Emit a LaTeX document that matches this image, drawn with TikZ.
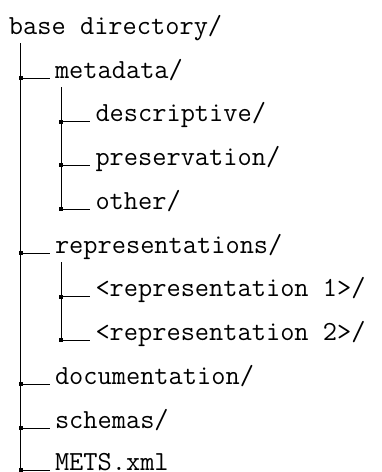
\documentclass[tikz,border=0pt]{standalone}
\usepackage{fontspec}
\usepackage{tikz}

\newcommand\dirfont{\fontsize{27.6}{30}\selectfont\ttfamily}

\begin{document}
\begin{tikzpicture}[x=1pt,y=-1pt,line width=1pt,
                    entry/.style={anchor=base west,inner sep=0pt,font=\dirfont},
                    junction/.style={fill,rectangle,minimum size=4pt,inner sep=0pt}]
  \useasboundingbox (0,0) rectangle (382,472);
  % directory entries
  \node[entry] (base) at (8.5,34) {base directory/};
  \node[entry] (meta) at (54.5,78) {metadata/};
  \node[entry] (desc) at (95,121.5) {descriptive/};
  \node[entry] (pres) at (95,165) {preservation/};
  \node[entry] (other) at (95,209) {other/};
  \node[entry] (reps) at (54.5,253) {representations/};
  \node[entry] (rep1) at (95,296.5) {<representation 1>/};
  \node[entry] (rep2) at (95,340) {<representation 2>/};
  \node[entry] (docs) at (54.5,384) {documentation/};
  \node[entry] (schemas) at (54.5,428) {schemas/};
  \node[entry] (mets) at (54.5,470) {METS.xml};
  % tops of the vertical lines
  \coordinate (top0) at (20.5,43);
  \coordinate (top1) at (61,87);
  \coordinate (top2) at (61,262);
  % junctions on the vertical lines
  \foreach \n in {meta,reps,docs,schemas,mets}
    \node[junction] (j\n) at (\n.base west -| top0) {};
  \foreach \n in {desc,pres,other,rep1,rep2}
    \node[junction] (j\n) at (\n.base west -| top1) {};
  \draw (top0) -- (20.5,472);
  \draw (top1) -- (jother.center);
  \draw (top2) -- (jrep2.center);
  \foreach \n in {meta,reps,docs,schemas,mets,desc,pres,other,rep1,rep2}
    \draw (j\n.center) -- ([xshift=-5pt]\n.base west);
\end{tikzpicture}
\end{document}
